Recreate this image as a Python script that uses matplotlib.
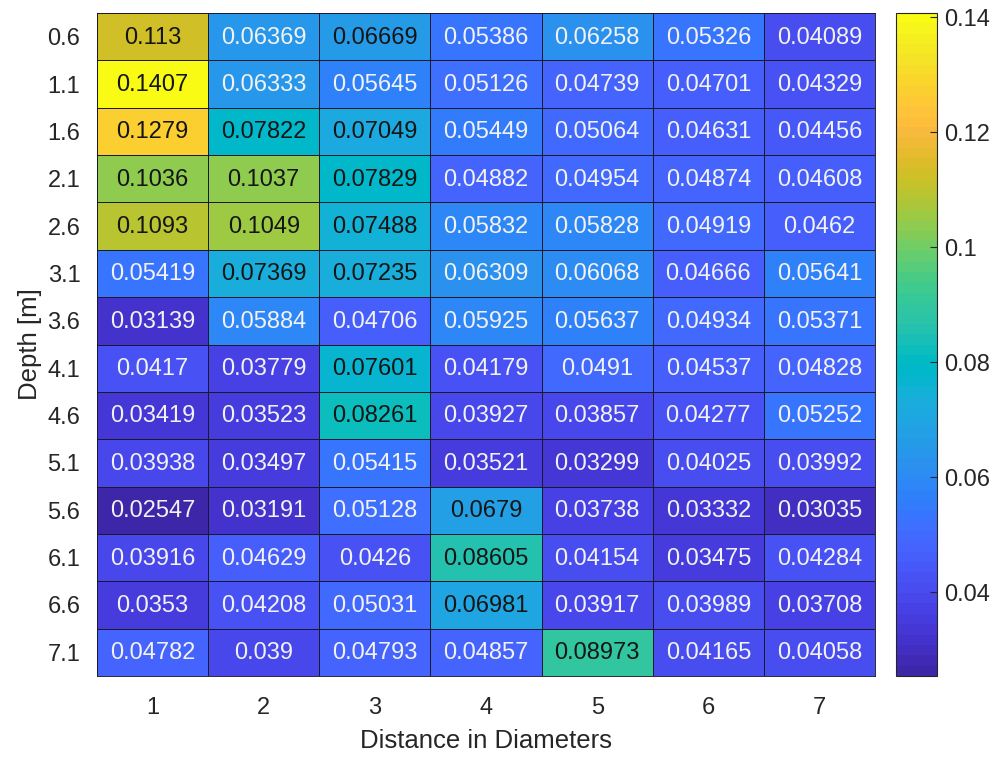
import numpy as np
import matplotlib
matplotlib.use('Agg')
import matplotlib.pyplot as plt
from matplotlib.colors import ListedColormap
from matplotlib.ticker import FuncFormatter

# data
depth_labels = ['0.6', '1.1', '1.6', '2.1', '2.6', '3.1', '3.6', '4.1', '4.6', '5.1', '5.6', '6.1', '6.6', '7.1']
distance_labels = ['1', '2', '3', '4', '5', '6', '7']
values = [
	[0.113, 0.06369, 0.06669, 0.05386, 0.06258, 0.05326, 0.04089],
	[0.1407, 0.06333, 0.05645, 0.05126, 0.04739, 0.04701, 0.04329],
	[0.1279, 0.07822, 0.07049, 0.05449, 0.05064, 0.04631, 0.04456],
	[0.1036, 0.1037, 0.07829, 0.04882, 0.04954, 0.04874, 0.04608],
	[0.1093, 0.1049, 0.07488, 0.05832, 0.05828, 0.04919, 0.0462],
	[0.05419, 0.07369, 0.07235, 0.06309, 0.06068, 0.04666, 0.05641],
	[0.03139, 0.05884, 0.04706, 0.05925, 0.05637, 0.04934, 0.05371],
	[0.0417, 0.03779, 0.07601, 0.04179, 0.0491, 0.04537, 0.04828],
	[0.03419, 0.03523, 0.08261, 0.03927, 0.03857, 0.04277, 0.05252],
	[0.03938, 0.03497, 0.05415, 0.03521, 0.03299, 0.04025, 0.03992],
	[0.02547, 0.03191, 0.05128, 0.0679, 0.03738, 0.03332, 0.03035],
	[0.03916, 0.04629, 0.0426, 0.08605, 0.04154, 0.03475, 0.04284],
	[0.0353, 0.04208, 0.05031, 0.06981, 0.03917, 0.03989, 0.03708],
	[0.04782, 0.039, 0.04793, 0.04857, 0.08973, 0.04165, 0.04058],
]
cbar_ticks = [0.04, 0.06, 0.08, 0.1, 0.12, 0.14]

# MATLAB parula(64)
parula_rgb = [
	[0.2422, 0.1504, 0.6603], [0.2504, 0.1650, 0.7076], [0.2578, 0.1818, 0.7511], [0.2647, 0.1978, 0.7952],
	[0.2706, 0.2147, 0.8364], [0.2751, 0.2342, 0.8710], [0.2783, 0.2559, 0.8991], [0.2803, 0.2782, 0.9221],
	[0.2813, 0.3006, 0.9414], [0.2810, 0.3228, 0.9579], [0.2795, 0.3447, 0.9717], [0.2760, 0.3667, 0.9829],
	[0.2699, 0.3892, 0.9906], [0.2602, 0.4123, 0.9952], [0.2440, 0.4358, 0.9988], [0.2206, 0.4603, 0.9973],
	[0.1963, 0.4847, 0.9892], [0.1834, 0.5074, 0.9798], [0.1786, 0.5289, 0.9682], [0.1764, 0.5499, 0.9520],
	[0.1687, 0.5703, 0.9359], [0.1540, 0.5902, 0.9218], [0.1460, 0.6091, 0.9079], [0.1380, 0.6276, 0.8973],
	[0.1248, 0.6459, 0.8883], [0.1113, 0.6635, 0.8763], [0.0952, 0.6798, 0.8598], [0.0689, 0.6948, 0.8394],
	[0.0297, 0.7082, 0.8163], [0.0036, 0.7203, 0.7917], [0.0067, 0.7312, 0.7660], [0.0433, 0.7411, 0.7394],
	[0.0964, 0.7500, 0.7120], [0.1408, 0.7584, 0.6842], [0.1717, 0.7670, 0.6554], [0.1938, 0.7758, 0.6251],
	[0.2161, 0.7843, 0.5923], [0.2470, 0.7918, 0.5567], [0.2906, 0.7973, 0.5188], [0.3406, 0.8008, 0.4789],
	[0.3909, 0.8029, 0.4354], [0.4456, 0.8024, 0.3909], [0.5044, 0.7993, 0.3480], [0.5616, 0.7942, 0.3045],
	[0.6174, 0.7876, 0.2612], [0.6720, 0.7793, 0.2227], [0.7242, 0.7698, 0.1910], [0.7738, 0.7598, 0.1646],
	[0.8203, 0.7498, 0.1535], [0.8634, 0.7406, 0.1596], [0.9035, 0.7330, 0.1774], [0.9393, 0.7288, 0.2100],
	[0.9728, 0.7298, 0.2394], [0.9956, 0.7434, 0.2371], [0.9970, 0.7659, 0.2199], [0.9952, 0.7893, 0.2028],
	[0.9892, 0.8136, 0.1885], [0.9786, 0.8386, 0.1766], [0.9676, 0.8639, 0.1643], [0.9610, 0.8890, 0.1537],
	[0.9597, 0.9135, 0.1423], [0.9628, 0.9373, 0.1265], [0.9691, 0.9606, 0.1064], [0.9769, 0.9839, 0.0805],
]
parula = ListedColormap(parula_rgb, name='parula')

plt.rcParams['font.family'] = ['Liberation Sans', 'DejaVu Sans']

data = np.array(values)
vmin, vmax = data.min(), data.max()

fig = plt.figure(figsize=(9.98, 7.57), dpi=100)
ax = fig.add_axes([0.0972, 0.107, 0.7796, 0.8758])
cax = fig.add_axes([0.8978, 0.107, 0.0411, 0.8758])

mesh = ax.pcolormesh(data, cmap=parula, vmin=vmin, vmax=vmax,
		edgecolors='#1a1a2a', linewidth=0.65)
ax.set_xlim(0, data.shape[1])
ax.set_ylim(data.shape[0], 0)

for i in range(data.shape[0]):
	for j in range(data.shape[1]):
		v = data[i, j]
		r, g, b, _ = parula((v - vmin) / (vmax - vmin))
		lum = 0.2989 * r + 0.587 * g + 0.114 * b
		col = '#151515' if lum > 0.5 else '#f2f2f2'
		ax.text(j + 0.5, i + 0.52, f'{v:.4g}', ha='center', va='center',
				fontsize=17, color=col)

ax.set_xticks(np.arange(data.shape[1]) + 0.5)
ax.set_xticklabels(distance_labels)
ax.set_yticks(np.arange(data.shape[0]) + 0.5)
ax.set_yticklabels(depth_labels)
ax.tick_params(length=0, labelsize=17, labelcolor='#262626')
ax.tick_params(axis='x', pad=15)
ax.tick_params(axis='y', pad=12)
for s in ax.spines.values():
	s.set_color('#1a1a2a')
	s.set_linewidth(0.65)

ax.set_xlabel('Distance in Diameters', fontsize=18.5, color='#262626', labelpad=7)
ax.set_ylabel('Depth [m]', fontsize=18.5, color='#262626', labelpad=4)

cb = fig.colorbar(mesh, cax=cax)
cb.set_ticks(cbar_ticks)
cb.ax.yaxis.set_major_formatter(FuncFormatter(lambda x, p: f'{x:g}'))
cb.ax.tick_params(direction='in', length=5, labelsize=17, labelcolor='#262626', color='#262626', width=0.8, pad=5)
cb.outline.set_edgecolor('#262626')
cb.outline.set_linewidth(0.8)

fig.savefig('out.png', dpi=100)
